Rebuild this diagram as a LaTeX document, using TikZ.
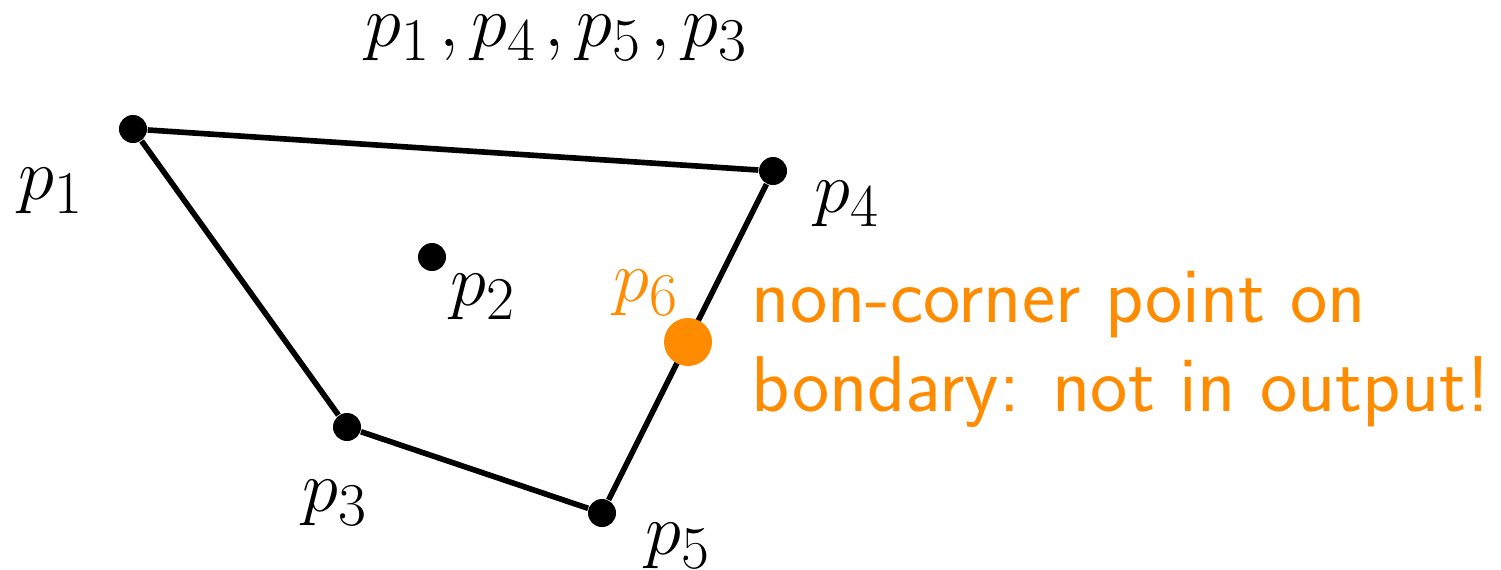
\documentclass[tikz,border=0pt]{standalone}
\usepackage{amsmath,amssymb}
\usepackage{xcolor}
\usepackage{tikz}
\usetikzlibrary{positioning,calc}

\definecolor{hullorange}{RGB}{255,140,0}

\begin{document}
\begin{tikzpicture}[x=0.01cm, y=-0.01cm,
		font=\fontsize{22.8}{25.3}\selectfont,
		pt/.style={circle, fill=black, inner sep=0pt, minimum size=0.28cm},
		bigpt/.style={circle, fill=hullorange, inner sep=0pt, minimum size=0.48cm},
		lbl/.style={anchor=base west, inner sep=0pt},
		hull/.style={line width=1.6pt}]
		\useasboundingbox (0,0) rectangle (1501,569);

		\node[pt] (p1) at (133,129) {};
		\node[pt] (p2) at (432,257) {};
		\node[pt] (p3) at (347,427) {};
		\node[pt] (p4) at (773,171) {};
		\node[pt] (p5) at (602,513) {};

		\draw[hull] (p1) -- (p4) -- (p5) -- (p3) -- (p1);

		\node[bigpt] (p6) at (688,342) {};

		\node[lbl] (l1) at (18,199) {$p_1$};
		\node[lbl] (l2) at (450,305) {$p_2$};
		\node[lbl] (l3) at (302,511) {$p_3$};
		\node[lbl] (l4) at (814,212) {$p_4$};
		\node[lbl] (l5) at (645,554) {$p_5$};
		\node[lbl, text=hullorange] (l6) at (613,301) {$p_6$};

		\node[lbl] (order) at (365,46) {$p_1\mkern2mu, p_4\mkern2mu, p_5\mkern2mu, p_3$};

		% base anchor sits on the last line
		\node[lbl, text=hullorange, align=left, font=\fontsize{22.5}{25.3}\selectfont\sffamily] (note) at (751,411)
			{non-corner point on\\bondary: not in output!};
	\end{tikzpicture}
\end{document}
